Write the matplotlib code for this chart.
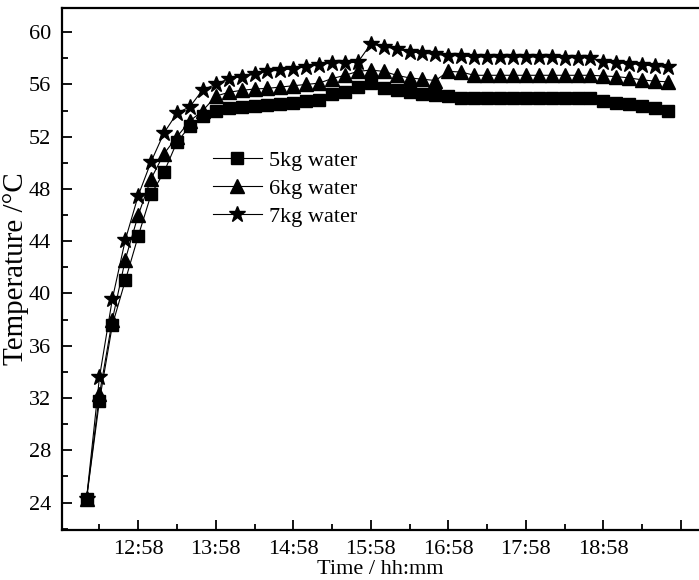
import matplotlib
matplotlib.use("Agg")
import matplotlib.pyplot as plt
import numpy as np

plt.rcParams['font.family'] = ['Liberation Serif', 'DejaVu Serif']

# sampling every 10 min from 12:18 to 19:48 (minutes after midnight)
times = np.arange(12 * 60 + 18, 19 * 60 + 49, 10)

temp_5kg = [24.3, 31.8, 37.6, 41.0, 44.4, 47.6, 49.3, 51.6, 52.8, 53.6,
            54.0, 54.2, 54.25, 54.35, 54.4, 54.5, 54.6, 54.7, 54.8, 55.3,
            55.4, 55.8, 56.1, 55.7, 55.6, 55.4, 55.3, 55.2, 55.1, 55.0,
            55.0, 55.0, 55.0, 55.0, 55.0, 55.0, 55.0, 55.0, 55.0, 55.0,
            54.7, 54.6, 54.5, 54.35, 54.2, 54.0]
temp_6kg = [24.3, 32.3, 38.0, 42.6, 46.0, 48.8, 50.7, 52.0, 53.2, 54.0,
            55.1, 55.4, 55.55, 55.65, 55.7, 55.8, 55.9, 56.0, 56.1, 56.45,
            56.7, 57.0, 57.1, 57.0, 56.7, 56.5, 56.4, 56.3, 57.0, 56.95,
            56.7, 56.7, 56.7, 56.7, 56.7, 56.7, 56.7, 56.7, 56.7, 56.7,
            56.65, 56.6, 56.5, 56.35, 56.25, 56.2]
temp_7kg = [24.3, 33.6, 39.6, 44.1, 47.5, 50.1, 52.3, 53.8, 54.3, 55.6,
            56.0, 56.45, 56.6, 56.8, 57.0, 57.1, 57.2, 57.35, 57.5, 57.65,
            57.65, 57.7, 59.1, 58.9, 58.7, 58.5, 58.4, 58.3, 58.2, 58.2,
            58.1, 58.1, 58.1, 58.1, 58.1, 58.1, 58.1, 58.05, 58.05, 58.05,
            57.7, 57.65, 57.6, 57.5, 57.4, 57.3]

major_ticks = [12 * 60 + 58 + 60 * k for k in range(8)]
major_labels = ["12:58", "13:58", "14:58", "15:58", "16:58", "17:58", "18:58", ""]
minor_ticks = [12 * 60 + 28 + 60 * k for k in range(8)]

fig = plt.figure(figsize=(6.99, 5.8), dpi=100)
ax = fig.add_axes([62 / 699, 50 / 580, 1 - 62 / 699, 522 / 580])

ax.plot(times, temp_5kg, color='black', lw=0.8, marker='s', ms=8.5, label='5kg water')
ax.plot(times, temp_6kg, color='black', lw=0.8, marker='^', ms=9.5, label='6kg water')
ax.plot(times, temp_7kg, color='black', lw=0.8, marker='*', ms=12, label='7kg water')

ax.set_xlim(11 * 60 + 59, 20 * 60 + 12)
ax.set_ylim(21.9, 61.85)
ax.set_xticks(major_ticks)
ax.set_xticklabels(major_labels)
ax.set_xticks(minor_ticks, minor=True)
ax.set_yticks(np.arange(24, 61, 4))
ax.set_yticks(np.arange(22, 62, 2), minor=True)

ax.tick_params(which='both', direction='in', width=1.3, labelsize=16)
ax.tick_params(which='major', length=7)
ax.tick_params(which='minor', length=4)
ax.tick_params(axis='y', pad=8)
ax.tick_params(axis='x', pad=7)
for s in ax.spines.values():
    s.set_linewidth(1.6)
ax.spines['right'].set_visible(False)

ax.set_xlabel("Time / hh:mm", fontsize=16, labelpad=1)
ax.set_ylabel("Temperature /°C", fontsize=21, labelpad=0)

ax.legend(loc='upper left', bbox_to_anchor=(0.237, 0.728), frameon=False,
          fontsize=16, handlelength=2.2, handletextpad=0.3, labelspacing=0.35,
          borderpad=0, borderaxespad=0)

fig.savefig("out.png", dpi=100)
